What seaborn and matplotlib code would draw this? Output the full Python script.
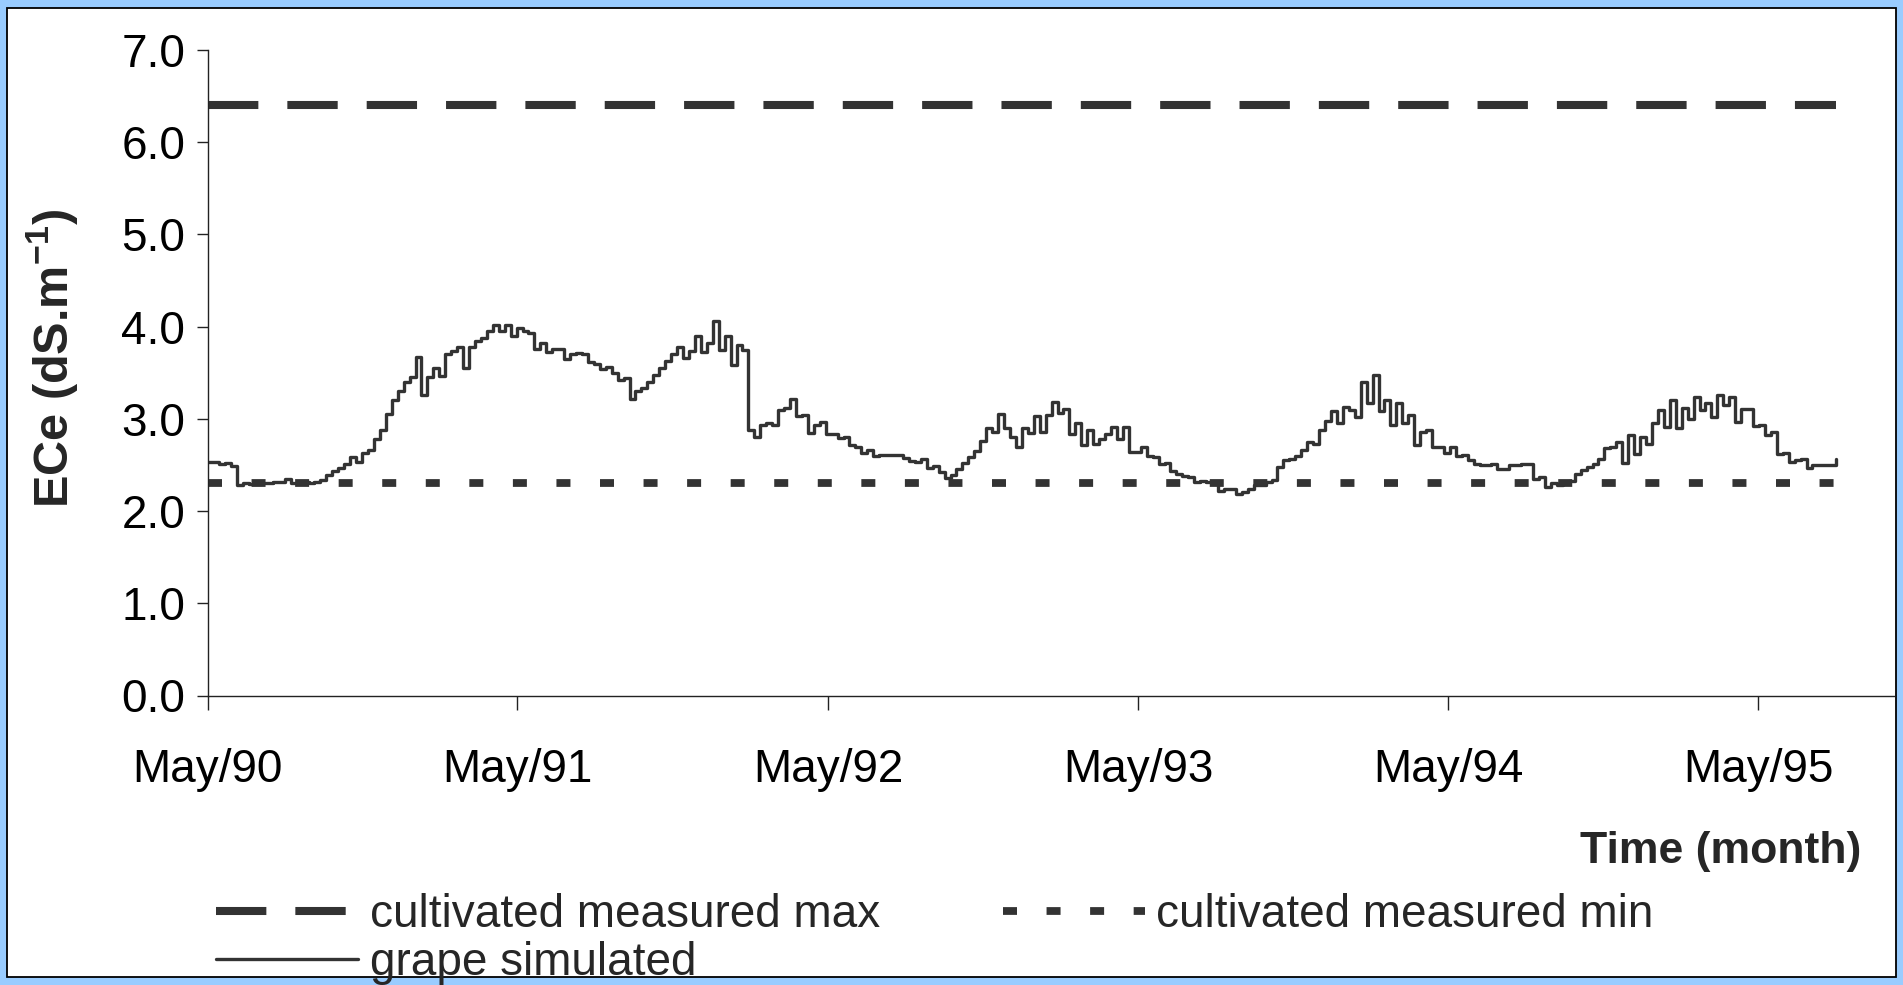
import matplotlib
matplotlib.use("Agg")
import matplotlib.pyplot as plt
import matplotlib.dates as mdates
from matplotlib.patches import Rectangle
import numpy as np
import pandas as pd
import seaborn as sns

# ---- data -------------------------------------------------------------
start_date = "1990-05-01"
week_step = "7D"

# simulated soil salinity under grape (ECe, dS/m), weekly values
grape_simulated = [
    2.53, 2.53, 2.51, 2.52, 2.49, 2.28, 2.30, 2.29, 2.29, 2.30,
    2.30, 2.31, 2.31, 2.35, 2.30, 2.31, 2.32, 2.30, 2.32, 2.34,
    2.39, 2.43, 2.47, 2.51, 2.59, 2.53, 2.63, 2.66, 2.78, 2.88,
    3.05, 3.20, 3.30, 3.40, 3.45, 3.67, 3.26, 3.45, 3.55, 3.47,
    3.70, 3.74, 3.78, 3.55, 3.78, 3.84, 3.88, 3.95, 4.02, 3.95,
    4.02, 3.90, 3.98, 3.95, 3.93, 3.76, 3.82, 3.73, 3.76, 3.76,
    3.65, 3.70, 3.71, 3.70, 3.62, 3.60, 3.54, 3.56, 3.50, 3.42,
    3.44, 3.22, 3.30, 3.34, 3.40, 3.48, 3.55, 3.63, 3.70, 3.78,
    3.66, 3.74, 3.90, 3.72, 3.82, 4.06, 3.75, 3.90, 3.58, 3.80,
    3.75, 2.88, 2.80, 2.93, 2.95, 2.93, 3.10, 3.12, 3.22, 3.03,
    3.04, 2.85, 2.93, 2.97, 2.84, 2.84, 2.79, 2.80, 2.72, 2.70,
    2.63, 2.66, 2.60, 2.61, 2.61, 2.61, 2.61, 2.58, 2.54, 2.53,
    2.57, 2.47, 2.49, 2.42, 2.36, 2.39, 2.46, 2.52, 2.59, 2.65,
    2.76, 2.90, 2.86, 3.05, 2.90, 2.80, 2.70, 2.90, 2.85, 3.03,
    2.86, 3.04, 3.18, 3.06, 3.11, 2.84, 2.95, 2.72, 2.88, 2.73,
    2.78, 2.84, 2.91, 2.78, 2.91, 2.64, 2.64, 2.70, 2.60, 2.59,
    2.51, 2.52, 2.43, 2.40, 2.38, 2.37, 2.31, 2.33, 2.31, 2.30,
    2.22, 2.24, 2.24, 2.19, 2.21, 2.24, 2.28, 2.28, 2.31, 2.34,
    2.48, 2.55, 2.57, 2.60, 2.66, 2.75, 2.73, 2.88, 2.98, 3.09,
    2.95, 3.13, 3.10, 3.02, 3.40, 3.17, 3.48, 3.09, 3.20, 2.93,
    3.17, 2.95, 3.04, 2.72, 2.86, 2.88, 2.70, 2.70, 2.63, 2.70,
    2.60, 2.61, 2.55, 2.51, 2.50, 2.50, 2.51, 2.46, 2.46, 2.50,
    2.50, 2.51, 2.51, 2.35, 2.37, 2.26, 2.30, 2.28, 2.30, 2.33,
    2.40, 2.44, 2.48, 2.51, 2.57, 2.68, 2.70, 2.75, 2.52, 2.82,
    2.62, 2.80, 2.73, 2.95, 3.10, 2.91, 3.20, 2.90, 3.12, 3.00,
    3.24, 3.10, 3.17, 3.02, 3.26, 3.15, 3.24, 2.97, 3.11, 3.11,
    2.92, 2.93, 2.82, 2.86, 2.62, 2.63, 2.53, 2.55, 2.56, 2.47,
    2.50, 2.50, 2.50, 2.50, 2.56,
]

measured_max = 6.4   # cultivated measured max
measured_min = 2.3   # cultivated measured min

y_ticks = [0.0, 1.0, 2.0, 3.0, 4.0, 5.0, 6.0, 7.0]
x_tick_years = [1990, 1991, 1992, 1993, 1994, 1995]
x_axis_end = "1995-10-08"

labels = ["cultivated measured max", "cultivated measured min", "grape simulated"]

dates = pd.date_range(start_date, periods=len(grape_simulated), freq=week_step)
df = pd.DataFrame({
    "date": dates,
    "grape": grape_simulated,
    "max": np.full(len(dates), measured_max),
    "min": np.full(len(dates), measured_min),
})

# ---- style ------------------------------------------------------------
sns.set_theme(style="white")
plt.rcParams["font.family"] = ["Liberation Sans", "DejaVu Sans"]
plt.rcParams["mathtext.fontset"] = "custom"
plt.rcParams["mathtext.rm"] = "Liberation Sans"
plt.rcParams["mathtext.bf"] = "Liberation Sans:bold"

W, H = 1903, 985
ink = "#333333"

fig = plt.figure(figsize=(W / 100, H / 100), dpi=100, facecolor="#99CCFF")
fig.patches.append(Rectangle((7 / W, 1 - 977 / H), (1896 - 7) / W, (977 - 8) / H,
                             transform=fig.transFigure, facecolor="white",
                             edgecolor="black", linewidth=1.3, zorder=-1))

ax = fig.add_axes([207.5 / W, 1 - 695.5 / H, (1894 - 207.5) / W, (695.5 - 50) / H])
ax.set_facecolor("none")

sns.lineplot(data=df, x="date", y="max", ax=ax, color=ink, linewidth=5.8,
             linestyle=(0, (6.25, 3.6)), errorbar=None, label=labels[0])
sns.lineplot(data=df, x="date", y="min", ax=ax, color=ink, linewidth=5.6,
             linestyle=(0, (1.8, 3.8)), errorbar=None, label=labels[1])
sns.lineplot(data=df, x="date", y="grape", ax=ax, color=ink, linewidth=2.4,
             drawstyle="steps-post", errorbar=None, label=labels[2])

# ---- axes -------------------------------------------------------------
ax.set_ylim(0, 7)
ax.set_yticks(y_ticks)
ax.yaxis.set_major_formatter(matplotlib.ticker.FormatStrFormatter("%.1f"))
ax.set_xlim(pd.Timestamp(start_date), pd.Timestamp(x_axis_end))
ax.set_xticks([pd.Timestamp(f"{y}-05-01") for y in x_tick_years])
ax.xaxis.set_major_formatter(mdates.DateFormatter("%b/%y"))

for side in ("top", "right"):
    ax.spines[side].set_visible(False)
for side in ("left", "bottom"):
    ax.spines[side].set_color("#222222")
    ax.spines[side].set_linewidth(1.0)

ax.tick_params(axis="y", direction="out", length=8, width=1, color="#222222",
               labelsize=33, pad=8, left=True)
ax.tick_params(axis="x", direction="out", length=10, width=1, color="#222222",
               labelsize=33, pad=28, bottom=True)
for t in ax.get_xticklabels() + ax.get_yticklabels():
    t.set_color("black")
ax.set_xlabel("")
ax.set_ylabel("")

fig.text(52 / W, 1 - 358 / H, r"ECe (dS.m$^{\mathbf{-1}}$)", rotation=90,
         ha="center", va="center", fontsize=35, fontweight="bold")
fig.text(1861 / W, 1 - 852 / H, "Time (month)", ha="right", va="center",
         fontsize=32, fontweight="bold")

# ---- legend -----------------------------------------------------------
handles, labs = ax.get_legend_handles_labels()
ax.get_legend().remove()
order = [0, 2, 1]
fig.legend([handles[i] for i in order], [labs[i] for i in order],
           loc="upper left", bbox_to_anchor=(216 / W, 1 - 893 / H), ncol=2,
           frameon=False, fontsize=33, borderpad=0, borderaxespad=0,
           handlelength=3.1, handletextpad=0.25, columnspacing=2.68,
           labelspacing=0.08)

fig.savefig("out.png", dpi=100, facecolor=fig.get_facecolor())
